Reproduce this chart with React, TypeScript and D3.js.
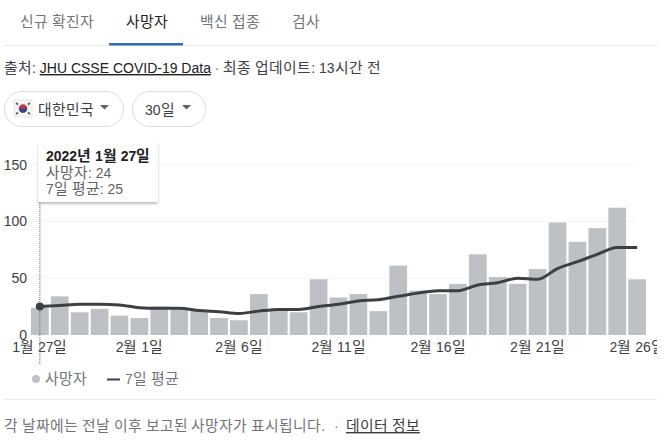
import * as d3 from 'd3';
import React from 'react';

const FONT = '"KrWide", "Liberation Sans", "Noto Sans CJK KR", sans-serif';
const FONT_CSS = `
@font-face { font-family: "KrWide"; src: local("Noto Sans CJK KR"); font-weight: 400; size-adjust: 106%; unicode-range: U+AC00-D7A3; }
@font-face { font-family: "KrWide"; src: local("Noto Sans CJK KR Bold"); font-weight: 700; size-adjust: 106%; unicode-range: U+AC00-D7A3; }
`;

const tabs = ['신규 확진자', '사망자', '백신 접종', '검사'];
const tabCenters = [57, 147, 230, 306];

const days = [
  '1월 27일', '1월 28일', '1월 29일', '1월 30일', '1월 31일',
  '2월 1일', '2월 2일', '2월 3일', '2월 4일', '2월 5일', '2월 6일',
  '2월 7일', '2월 8일', '2월 9일', '2월 10일', '2월 11일', '2월 12일',
  '2월 13일', '2월 14일', '2월 15일', '2월 16일', '2월 17일', '2월 18일',
  '2월 19일', '2월 20일', '2월 21일', '2월 22일', '2월 23일', '2월 24일',
  '2월 25일', '2월 26일',
];
const deaths = [
  24, 34, 20, 23, 17, 15, 25, 24, 22, 15, 13, 36, 22, 20, 49, 33,
  36, 21, 61, 39, 36, 45, 71, 51, 45, 58, 99, 82, 94, 112, 49,
];
const average = [
  25, 26, 27, 27, 26.5, 24, 23.5, 23.5, 21.5, 20.5, 19, 21, 22.5, 22.5, 25, 27,
  30, 31, 34, 37, 39, 39, 44, 46, 50, 49, 58.5, 64.5, 71, 77, 77,
];
const yTicks = [0, 50, 100, 150];
const xTickLabels = ['1월 27일', '2월 1일', '2월 6일', '2월 11일', '2월 16일', '2월 21일', '2월 26일'];

const x = d3.scaleBand<string>().domain(days).range([31, 646]).paddingInner(0.11).paddingOuter(0);
const y = d3.scaleLinear().domain([0, 150]).range([335, 164.5]);
const center = (d: string) => (x(d) as number) + x.bandwidth() / 2;

const avgLine = d3
  .line<number>()
  .x((_, i) => center(days[i]))
  .y(d => y(d))
  .curve(d3.curveMonotoneX);

const Pill = ({ x0, w, label, tx }: any) => (
  <g>
    <rect x={x0 + 0.5} y={91.5} width={w} height={35} rx={17.5} fill="#fff" stroke="#dadce0" />
    <text x={tx} y={115} fontSize={14} fill="#3c4043">{label}</text>
    <path d={`M${x0 + w - 23},105 h9 l-4.5,4.5 z`} fill="#5f6368" />
  </g>
);

export default function App() {
  return (
    <div style={{ position: 'absolute', left: 0, top: 0 }}>
      <style>{FONT_CSS}</style>
      <svg width={668} height={442} style={{ display: 'block', fontFamily: FONT }}>
        <defs>
          <clipPath id="page">
            <rect x={0} y={0} width={657} height={442} />
          </clipPath>
        </defs>
        <rect width={668} height={442} fill="#fff" />

        {/* tabs */}
        {tabs.map((t, i) => (
          <text key={t} x={tabCenters[i]} y={27} fontSize={14} textAnchor="middle" fill={i === 1 ? '#202124' : '#70757a'}>
            {t}
          </text>
        ))}
        <line x1={4} x2={657} y1={45.5} y2={45.5} stroke="#e8eaed" />
        <rect x={109} y={43} width={74} height={2.5} fill="#2f6fb7" />

        {/* source */}
        <text x={4} y={73} fontSize={14} fill="#3c4043">
          출처: <tspan textDecoration="underline" fill="#202124">JHU CSSE COVID-19 Data</tspan>
          <tspan fill="#70757a"> · </tspan>최종 업데이트: 13시간 전
        </text>

        {/* selectors */}
        <Pill x0={4} w={119} label="대한민국" tx={38} />
        <Pill x0={132} w={73} label="30일" tx={145} />
        <rect x={14} y={100} width={18} height={17} fill="#f6f6f6" stroke="#d8d8d8" strokeWidth={0.5} />
        <circle cx={23} cy={108.5} r={4.2} fill="#c8324a" />
        <path d="M18.8,108.5 a4.2,4.2 0 0 0 8.4,0 z" fill="#2a4a8c" />
        <g stroke="#555" strokeWidth={1.6}>
          <line x1={16} x2={18} y1={103} y2={104.5} />
          <line x1={30} x2={28} y1={103} y2={104.5} />
          <line x1={16} x2={18} y1={114} y2={112.5} />
          <line x1={30} x2={28} y1={114} y2={112.5} />
        </g>

        {/* grid */}
        {yTicks.map(t => (
          <g key={t}>
            {t > 0 && <line x1={31} x2={636} y1={y(t)} y2={y(t)} stroke="#f1f3f4" />}
            <text x={27} y={y(t) + 5} fontSize={14} textAnchor="end" fill="#3c4043">{t}</text>
          </g>
        ))}

        {/* bars */}
        {days.map((d, i) => (
          <rect key={d} x={x(d)} y={y(deaths[i])} width={x.bandwidth()} height={y(0) - y(deaths[i])} fill="#bdc1c6" />
        ))}

        {/* x ticks */}
        <g clipPath="url(#page)">
          {xTickLabels.map(d => (
            <text key={d} x={center(d)} y={352} fontSize={14} textAnchor="middle" fill="#3c4043">{d}</text>
          ))}
        </g>

        {/* hover line and 7 day average */}
        <line x1={center(days[0])} x2={center(days[0])} y1={203} y2={365} stroke="#5f6368" strokeDasharray="1 1" />
        <path d={avgLine(average) as string} fill="none" stroke="#3c4043" strokeWidth={3} />
        <circle cx={center(days[0])} cy={y(average[0])} r={4} fill="#3c4043" />

        {/* tooltip */}
        <rect x={38} y={142} width={120} height={61} rx={2} fill="#000" opacity={0.25} transform="translate(0,1)" style={{ filter: 'blur(1px)' }} />
        <rect x={38} y={141} width={120} height={61} rx={2} fill="#fff" />
        <text x={46} y={161} fontSize={14} fontWeight="bold" fill="#202124">2022년 1월 27일</text>
        <text x={46} y={178} fontSize={14} fill="#5f6368">사망자: {deaths[0]}</text>
        <text x={46} y={194} fontSize={14} fill="#5f6368">7일 평균: {average[0]}</text>

        {/* legend */}
        <circle cx={36} cy={379} r={4} fill="#bdc1c6" />
        <text x={45} y={384} fontSize={14} fill="#70757a">사망자</text>
        <line x1={107} x2={120} y1={379.5} y2={379.5} stroke="#3c4043" strokeWidth={2} />
        <text x={125} y={384} fontSize={14} fill="#70757a">7일 평균</text>

        {/* footer */}
        <line x1={4} x2={657} y1={399.5} y2={399.5} stroke="#e8eaed" />
        <text x={4} y={431} fontSize={14} fill="#70757a">
          각 날짜에는 전날 이후 보고된 사망자가 표시됩니다.
        </text>
        <text x={334} y={431} fontSize={14} fill="#70757a">·</text>
        <text x={346} y={431} fontSize={14} fill="#3c4043" textDecoration="underline">데이터 정보</text>
      </svg>
    </div>
  );
}
